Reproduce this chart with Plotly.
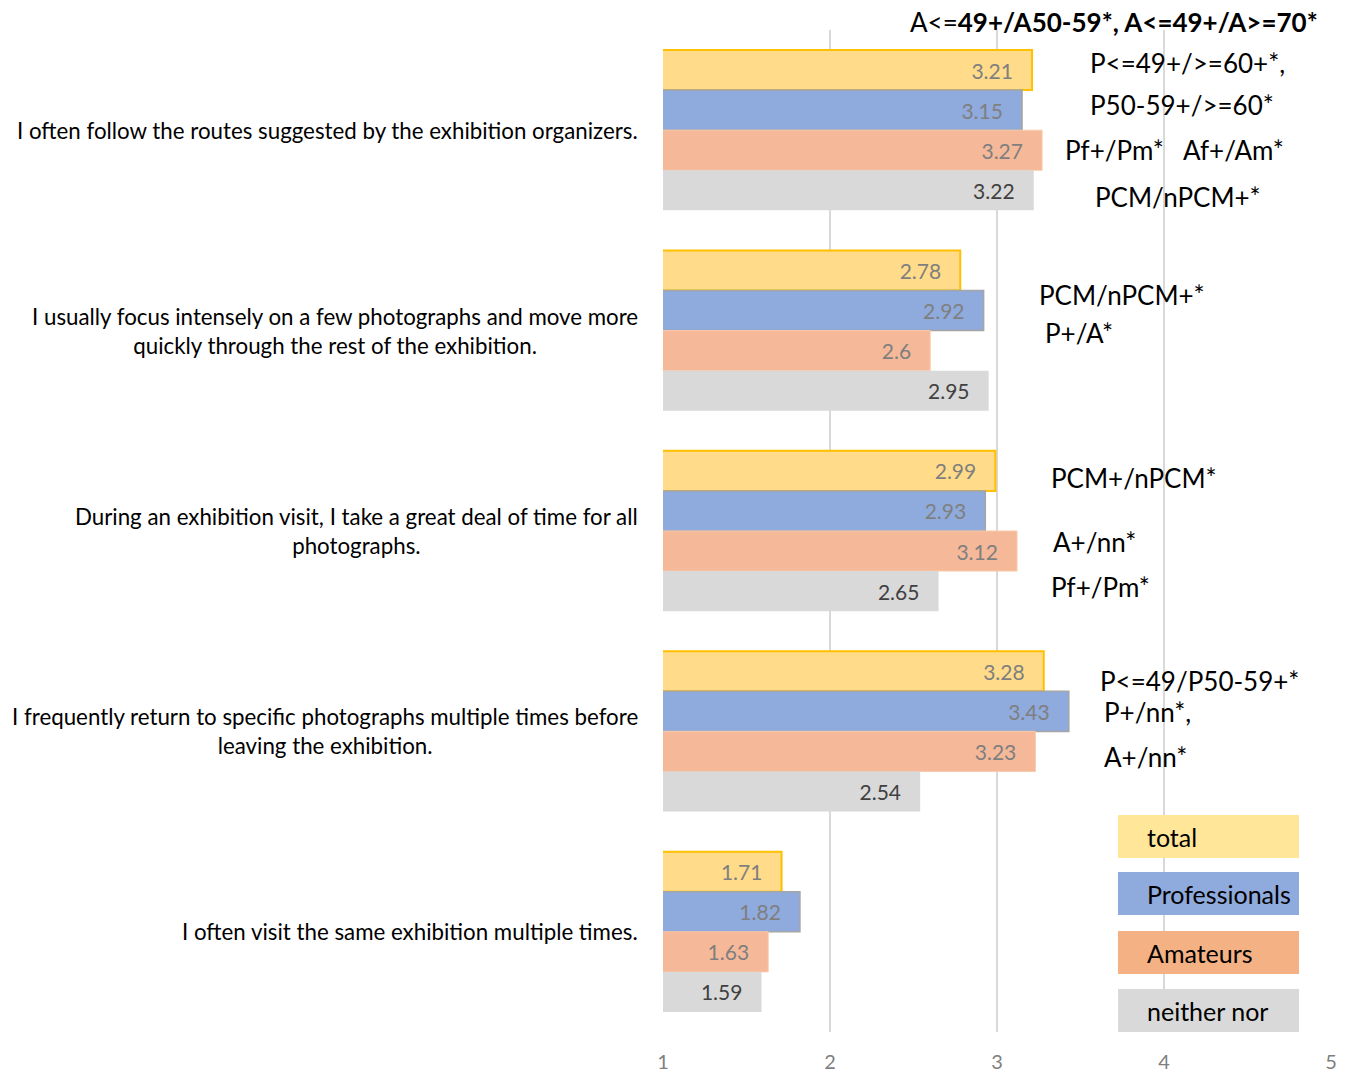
import plotly.graph_objects as go

# Survey statements (y categories) and mean agreement scores per group
statements = [
    "I often follow the routes suggested by the exhibition organizers.",
    "I usually focus intensely on a few photographs and move more<br>quickly through the rest of the exhibition.",
    "During an exhibition visit, I take a great deal of time for all<br>photographs.",
    "I frequently return to specific photographs multiple times before<br>leaving the exhibition.",
    "I often visit the same exhibition multiple times.",
]
total = [3.21, 2.78, 2.99, 3.28, 1.71]
professionals = [3.15, 2.92, 2.93, 3.43, 1.82]
amateurs = [3.27, 2.6, 3.12, 3.23, 1.63]
neither_nor = [3.22, 2.95, 2.65, 2.54, 1.59]

series_names = ["total", "Professionals", "Amateurs", "neither nor"]
x_ticks = [1, 2, 3, 4, 5]

# Significance notes shown to the right of the bars: (text, left px, centre px)
notes = [
    ("A&lt;=<b>49+/A50-59*, A&lt;=49+/A&gt;=70*</b>", 908, 22),
    ("P&lt;=49+/&gt;=60+*,", 1088, 63),
    ("P50-59+/&gt;=60*", 1088, 105),
    ("Pf+/Pm*   Af+/Am*", 1063, 150),
    ("PCM/nPCM+*", 1093, 197),
    ("PCM/nPCM+*", 1037, 295),
    ("P+/A*", 1043, 333),
    ("PCM+/nPCM*", 1049, 478),
    ("A+/nn*", 1051, 542),
    ("Pf+/Pm*", 1049, 587),
    ("P&lt;=49/P50-59+*", 1098, 681),
    ("P+/nn*,", 1102, 712),
    ("A+/nn*", 1102, 757),
]

FONT = "Lato"
W, H = 1348, 1075
L, R, T, B = 663, 1331, 30, 1032


def px_x(px):
    return 1 + (px - L) / (R - L) * 4


def px_y(py):
    return (B - py) / (B - T)


styles = [
    dict(color="#FFDB8A", line=dict(color="#FFC000", width=2), text="#7F7F7F"),
    dict(color="#8FAADC", line=dict(color="#A5A5A5", width=1.5), text="#7F7F7F"),
    dict(color="#F5B899", line=dict(color="#F8CBAD", width=1), text="#7F7F7F"),
    dict(color="#D9D9D9", line=dict(color="#D9D9D9", width=0), text="#404040"),
]

fig = go.Figure()
for name, vals, st in zip(series_names, [total, professionals, amateurs, neither_nor], styles):
    fig.add_trace(go.Bar(
        y=statements, x=vals, orientation="h", name=name,
        marker=dict(color=st["color"], line=st["line"]),
        base=0,
        text=vals, texttemplate="%{x}\u00a0\u00a0\u00a0", textposition="inside",
        insidetextanchor="end", constraintext="none",
        textfont=dict(family=FONT, size=21, color=st["text"]),
        showlegend=False,
    ))

annotations = []
# Statement labels, right-aligned to the axis with centred lines
for s in statements:
    annotations.append(dict(
        x=(640 - L) / (R - L), xref="paper", xanchor="right",
        y=s, yref="y", yanchor="middle", align="center",
        text=s, showarrow=False,
        font=dict(family=FONT, size=22.3, color="#000000"),
    ))
for text, left, cy in notes:
    annotations.append(dict(
        x=px_x(left), xref="x", xanchor="left",
        y=px_y(cy), yref="paper", yanchor="middle",
        text=text, showarrow=False, align="left",
        font=dict(family=FONT, size=26, color="#000000"),
    ))

# Legend drawn as coloured boxes with labels
legend_boxes = [
    ("total", "#FFE699", 815, 858),
    ("Professionals", "#8FAADC", 872, 915),
    ("Amateurs", "#F4B183", 931, 974),
    ("neither nor", "#D9D9D9", 989, 1032),
]
shapes = []
for label, col, y0, y1 in legend_boxes:
    shapes.append(dict(
        type="rect", xref="x", yref="paper",
        x0=px_x(1118), x1=px_x(1299), y0=px_y(y1), y1=px_y(y0),
        fillcolor=col, line=dict(width=0), layer="above",
    ))
    annotations.append(dict(
        x=px_x(1145), xref="x", xanchor="left",
        y=px_y((y0 + y1) / 2), yref="paper", yanchor="middle",
        text=label, showarrow=False,
        font=dict(family=FONT, size=25, color="#000000"),
    ))

fig.update_layout(
    width=W, height=H,
    margin=dict(l=L, r=W - R, t=T, b=H - B),
    paper_bgcolor="white", plot_bgcolor="white",
    barmode="group", bargap=0.2, bargroupgap=0,
    annotations=annotations, shapes=shapes,
    font=dict(family=FONT),
)
fig.update_xaxes(
    range=[1, 5], tickvals=x_ticks, showgrid=True, gridcolor="#D9D9D9", gridwidth=2,
    zeroline=False, showline=False, ticks="", automargin=False,
    tickfont=dict(family=FONT, size=20, color="#7F7F7F"), ticklabelstandoff=16,
)
fig.update_yaxes(
    autorange="reversed", showticklabels=False, showgrid=False, zeroline=False,
    showline=False, ticks="", automargin=False,
)

fig.write_html("out.html")
